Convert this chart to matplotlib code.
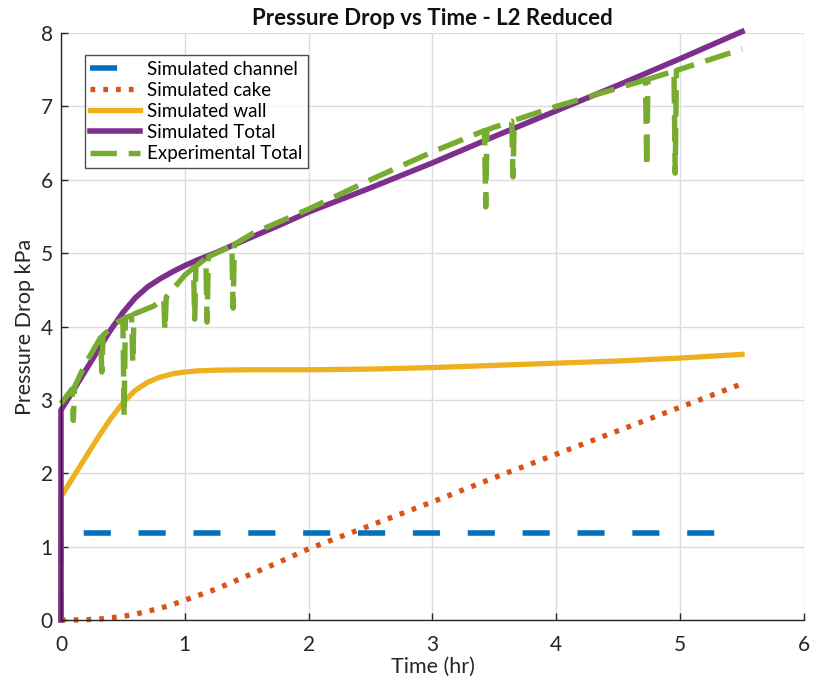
import matplotlib
matplotlib.use("Agg")
import matplotlib.pyplot as plt
import numpy as np

plt.rcParams['font.family'] = ['Lato', 'DejaVu Sans']
plt.rcParams['lines.scale_dashes'] = False

# Simulated model components (kPa) versus time (hr)
sim_time = [0.0, 0.0, 0.1, 0.2, 0.3, 0.4, 0.5, 0.6, 0.7, 0.8, 0.9, 1.0, 1.1, 1.25,
            1.5, 1.75, 2.0, 2.5, 3.0, 3.5, 4.0, 4.5, 5.0, 5.5]
sim_channel = [0.0, 1.18, 1.18, 1.18, 1.18, 1.18, 1.18, 1.18, 1.18, 1.18, 1.18, 1.18, 1.18, 1.18,
               1.18, 1.18, 1.18, 1.18, 1.18, 1.18, 1.18, 1.18, 1.18, 1.18]
sim_cake = [0.0, 0.0, 0.0, 0.005, 0.01, 0.03, 0.05, 0.08, 0.12, 0.16, 0.21, 0.27, 0.33, 0.42,
            0.60, 0.78, 0.97, 1.29, 1.61, 1.94, 2.26, 2.58, 2.90, 3.22]
sim_wall = [0.0, 1.68, 1.95, 2.22, 2.49, 2.74, 2.96, 3.13, 3.24, 3.31, 3.355, 3.38, 3.395, 3.405,
            3.41, 3.41, 3.41, 3.42, 3.44, 3.47, 3.50, 3.53, 3.57, 3.62]

# Measured total pressure drop, including the short drops at pulse events
exp_time = [0.00, 0.09, 0.10, 0.11, 0.20, 0.32, 0.33, 0.34, 0.45, 0.50, 0.51, 0.52,
            0.57, 0.58, 0.59, 0.75, 0.83, 0.84, 0.85, 1.00, 1.07, 1.08, 1.09,
            1.17, 1.18, 1.19, 1.38, 1.39, 1.40, 1.55, 2.00, 2.50, 3.00,
            3.42, 3.43, 3.44, 3.64, 3.65, 3.66, 4.00, 4.50,
            4.72, 4.73, 4.74, 4.95, 4.96, 4.97, 5.50]
exp_total = [2.95, 3.15, 2.72, 3.18, 3.50, 3.85, 3.38, 3.88, 4.05, 4.10, 2.77, 4.12,
             4.15, 3.50, 4.17, 4.28, 4.38, 3.95, 4.40, 4.70, 4.80, 4.10, 4.82,
             4.93, 4.06, 4.95, 5.10, 4.25, 5.12, 5.27, 5.60, 6.00, 6.38,
             6.67, 5.63, 6.68, 6.80, 6.04, 6.81, 7.00, 7.25,
             7.36, 6.17, 7.37, 7.48, 6.09, 7.49, 7.78]

x_ticks = [0, 1, 2, 3, 4, 5, 6]
y_ticks = [0, 1, 2, 3, 4, 5, 6, 7, 8]

sim_total = np.array(sim_channel) + np.array(sim_cake) + np.array(sim_wall)

fig = plt.figure(figsize=(8.15, 6.86), dpi=100)
ax = fig.add_axes([0.0748, 0.0962, 0.9117, 0.8557])

ax.plot(sim_time, sim_channel, color='#0072BD', lw=4.0, dashes=(19.5, 20.0),
        dash_capstyle='butt', clip_on=False, label='Simulated channel')
ax.plot(sim_time, sim_cake, color='#D95319', lw=3.8, dashes=(3.4, 5.8),
        dash_capstyle='butt', clip_on=False, label='Simulated cake')
ax.plot(sim_time, sim_wall, color='#EDB120', lw=3.8, clip_on=False, label='Simulated wall')
ax.plot(sim_time, sim_total, color='#7E2F8E', lw=4.0, clip_on=False, label='Simulated Total')
ax.plot(exp_time, exp_total, color='#77AC30', lw=3.9, dashes=(19.0, 8.5),
        dash_capstyle='butt', clip_on=False, label='Experimental Total')

ax.set_xlim(0, 6)
ax.set_ylim(0, 8)
ax.set_xticks(x_ticks)
ax.set_yticks(y_ticks)
ax.grid(True, color='#dcdcdc', lw=1.0)
ax.set_axisbelow(True)
for side in ('top', 'right'):
    ax.spines[side].set_visible(False)
for side in ('left', 'bottom'):
    ax.spines[side].set_color('#262626')
    ax.spines[side].set_linewidth(1.0)
ax.tick_params(direction='in', length=5, width=1.0, colors='#262626', labelsize=15)
ax.tick_params(axis='x', pad=11)
ax.tick_params(axis='y', pad=6)

ax.set_title('Pressure Drop vs Time - L2 Reduced', fontsize=16,
             fontweight='bold', color='#111111', pad=6)
ax.set_xlabel('Time (hr)', fontsize=15.5, color='#262626', labelpad=1)
ax.set_ylabel('Pressure Drop kPa', fontsize=15.5, color='#262626', labelpad=4)

leg = ax.legend(loc='upper left', bbox_to_anchor=(0.032, 0.9625), borderaxespad=0,
                fontsize=13.5, frameon=True, fancybox=False, handlelength=2.65,
                handletextpad=0.35, labelspacing=0.22, borderpad=0.3)
leg.get_frame().set_edgecolor('#262626')
leg.get_frame().set_linewidth(1.0)

fig.savefig('out.png', dpi=100, facecolor='white')
